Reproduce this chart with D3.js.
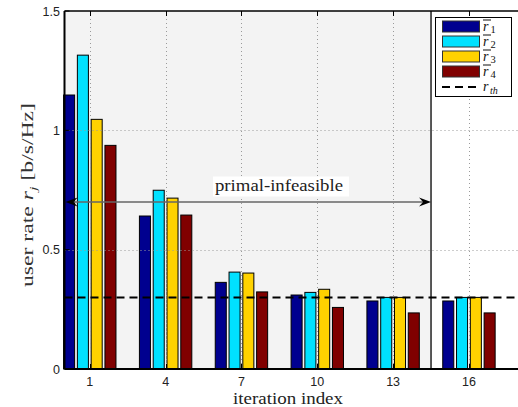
<!DOCTYPE html>
<html><head><meta charset="utf-8">
<script src="https://cdn.jsdelivr.net/npm/d3@7"></script>
<style>html,body{margin:0;padding:0;background:#fff;overflow:hidden}</style>
</head><body>
<svg id="chart" width="518" height="407"></svg>
<script>
// ---- data ----
const iterations = [1, 4, 7, 10, 13, 16];
const seriesNames = ["r1", "r2", "r3", "r4"];
const r1 = [1.148, 0.641, 0.363, 0.310, 0.285, 0.285];
const r2 = [1.315, 0.749, 0.406, 0.321, 0.300, 0.300];
const r3 = [1.046, 0.716, 0.402, 0.334, 0.300, 0.300];
const r4 = [0.937, 0.645, 0.323, 0.258, 0.235, 0.235];
const rTh = 0.3;
const yTicks = [0, 0.5, 1, 1.5];
const yTickLabels = ["0", "0.5", "1", "1.5"];
const xTicks = iterations;
const colors = ["#00008f", "#00e1ff", "#ffd200", "#800000"];
const infeasibleEnd = 14.5;
const arrowLevel = 0.7;

const series = [r1, r2, r3, r4];
const svg = d3.select("#chart");
const L = 64.5, R = 519.5, T = 11, B = 369;
const x = d3.scaleLinear().domain([0, 18]).range([L, R]);
const y = d3.scaleLinear().domain([0, 1.5]).range([B, T]);

svg.append("rect").attr("x", L).attr("y", T).attr("width", R - L).attr("height", B - T).attr("fill", "#fff");
svg.append("rect").attr("x", x(0)).attr("y", T).attr("width", x(infeasibleEnd) - x(0)).attr("height", B - T).attr("fill", "#f3f3f3");

// bars
const groupW = 3 * Math.min(0.8, 4 / 5.5);
const step = groupW / 4;
const bw = step * 0.8;
series.forEach((vals, si) => {
  svg.append("g").selectAll("rect").data(vals).join("rect")
    .attr("x", (d, i) => x(iterations[i] + (si - 1.5) * step - bw / 2))
    .attr("y", d => y(d))
    .attr("width", x(bw) - x(0))
    .attr("height", d => y(0) - y(d))
    .attr("fill", colors[si])
    .attr("stroke", "#000").attr("stroke-width", 1);
});

// grid (on top, dotted)
const grid = svg.append("g").attr("stroke", "#9a9a9a").attr("stroke-width", 1).attr("stroke-dasharray", "1,3");
xTicks.forEach(t => grid.append("line").attr("x1", Math.round(x(t)) + 0.5).attr("x2", Math.round(x(t)) + 0.5).attr("y1", T).attr("y2", B));
yTicks.slice(1, 3).forEach(t => grid.append("line").attr("x1", L).attr("x2", R).attr("y1", Math.round(y(t)) + 0.5).attr("y2", Math.round(y(t)) + 0.5));

svg.append("line").attr("x1", x(infeasibleEnd)).attr("x2", x(infeasibleEnd)).attr("y1", T).attr("y2", B)
  .attr("stroke", "#000").attr("stroke-width", 1.3);

svg.append("line").attr("x1", L).attr("x2", R).attr("y1", y(rTh)).attr("y2", y(rTh))
  .attr("stroke", "#000").attr("stroke-width", 2).attr("stroke-dasharray", "8,5");

// arrow
const ay = y(arrowLevel);
svg.append("line").attr("x1", x(0) + 4).attr("x2", x(infeasibleEnd) - 4).attr("y1", ay).attr("y2", ay)
  .attr("stroke", "#666").attr("stroke-width", 1.5);
function head(tipX, dir) {
  const len = 12, hw = 4.5, notch = 4;
  const p = [[tipX, ay], [tipX - dir * len, ay - hw], [tipX - dir * (len - notch), ay], [tipX - dir * len, ay + hw]];
  svg.append("path").attr("d", "M" + p.map(q => q.join(",")).join("L") + "Z").attr("fill", "#000");
}
head(x(infeasibleEnd), 1);
head(x(0) + 1, -1);

const sf = "'Liberation Serif', 'DejaVu Serif', serif";
const ann = svg.append("g");
ann.append("rect").attr("x", 213).attr("y", 176.5).attr("width", 136).attr("height", 20).attr("fill", "#fff");
ann.append("text").attr("x", 279).attr("y", 191).attr("text-anchor", "middle")
  .style("font-family", sf).attr("font-size", 16.5).attr("fill", "#222")
  .attr("textLength", 128).attr("lengthAdjust", "spacingAndGlyphs").text("primal-infeasible");

// axes frame
const frame = svg.append("g").attr("stroke", "#000").attr("stroke-width", 1.3).attr("fill", "none");
frame.append("line").attr("x1", L).attr("x2", R).attr("y1", B).attr("y2", B).attr("stroke-width", 2);
frame.append("line").attr("x1", L).attr("x2", L).attr("y1", T).attr("y2", B).attr("stroke-width", 2);
frame.append("line").attr("x1", L).attr("x2", R).attr("y1", T).attr("y2", T);
xTicks.forEach(t => {
  const xx = Math.round(x(t)) + 0.5;
  frame.append("line").attr("x1", xx).attr("x2", xx).attr("y1", B).attr("y2", B - 5).attr("stroke-width", 1);
  frame.append("line").attr("x1", xx).attr("x2", xx).attr("y1", T).attr("y2", T + 5).attr("stroke-width", 1);
});
yTicks.forEach(t => {
  frame.append("line").attr("x1", L).attr("x2", L + 5).attr("y1", y(t)).attr("y2", y(t)).attr("stroke-width", 1);
});

const tf = "'Liberation Sans', Arial, sans-serif";
svg.append("g").selectAll("text").data(xTicks).join("text")
  .attr("x", d => x(d)).attr("y", 386).attr("text-anchor", "middle")
  .style("font-family", tf).attr("font-size", 12.5).attr("fill", "#222").text(d => d);
svg.append("g").selectAll("text").data(yTicks).join("text")
  .attr("x", 60).attr("y", d => y(d) + 4.5).attr("text-anchor", "end")
  .style("font-family", tf).attr("font-size", 12.5).attr("fill", "#222").text((d, i) => yTickLabels[i]);

svg.append("text").attr("x", 288).attr("y", 403.5).attr("text-anchor", "middle")
  .style("font-family", sf).attr("font-size", 16).attr("fill", "#222")
  .attr("textLength", 110).attr("lengthAdjust", "spacingAndGlyphs").text("iteration index");
const yl = svg.append("text").attr("transform", "translate(33,195) rotate(-90)").attr("text-anchor", "middle")
  .style("font-family", sf).attr("font-size", 16).attr("fill", "#333")
  .attr("textLength", 184).attr("lengthAdjust", "spacingAndGlyphs");
yl.append("tspan").text("user rate ");
yl.append("tspan").attr("font-style", "italic").text("r");
yl.append("tspan").attr("font-style", "italic").attr("font-size", 11).attr("dy", 4).text("j");
yl.append("tspan").attr("dy", -4).text("  [b/s/Hz]");

// legend
const lg = svg.append("g");
lg.append("rect").attr("x", 435.5).attr("y", 17.5).attr("width", 76).attr("height", 79)
  .attr("fill", "#fff").attr("stroke", "#000").attr("stroke-width", 1);
const rowY = [26.5, 41.5, 56.5, 71.5];
seriesNames.forEach((n, i) => {
  lg.append("rect").attr("x", 442.5).attr("y", rowY[i] - 5.5).attr("width", 37).attr("height", 11)
    .attr("fill", colors[i]).attr("stroke", "#333").attr("stroke-width", 1);
  lg.append("line").attr("x1", 483).attr("x2", 491).attr("y1", rowY[i] - 6.5).attr("y2", rowY[i] - 6.5).attr("stroke", "#111").attr("stroke-width", 1);
  lg.append("text").attr("x", 483).attr("y", rowY[i] + 4).style("font-family", sf).attr("font-size", 14)
    .attr("font-style", "italic").attr("fill", "#111").text("r");
  lg.append("text").attr("x", 490.5).attr("y", rowY[i] + 6.5).style("font-family", sf).attr("font-size", 10.5)
    .attr("fill", "#111").text(n.slice(1));
});
lg.append("line").attr("x1", 442).attr("x2", 480).attr("y1", 87).attr("y2", 87)
  .attr("stroke", "#000").attr("stroke-width", 2).attr("stroke-dasharray", "8,5");
lg.append("text").attr("x", 483).attr("y", 91).style("font-family", sf).attr("font-size", 14)
  .attr("font-style", "italic").attr("fill", "#111").text("r");
lg.append("text").attr("x", 490).attr("y", 93.5).style("font-family", sf).attr("font-size", 10)
  .attr("font-style", "italic").attr("fill", "#111").text("th");
</script>
</body></html>
